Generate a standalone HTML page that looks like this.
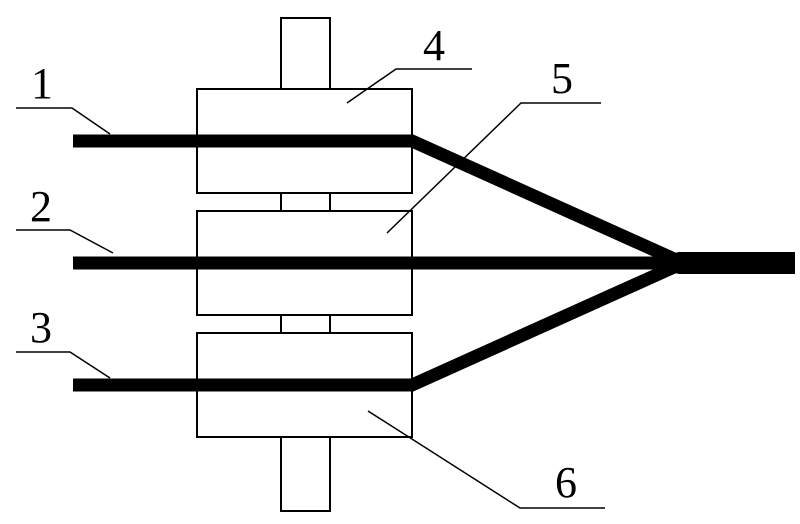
<!DOCTYPE html>
<html><head><style>
html,body{margin:0;padding:0;background:#fff;}
svg{display:block;}
text{font-family:"Liberation Serif",serif;font-size:44px;fill:#000;}
</style></head><body>
<svg width="800" height="524" viewBox="0 0 800 524" xmlns="http://www.w3.org/2000/svg">
<g fill="#fff" stroke="#000" stroke-width="2">
<rect x="281" y="18" width="49" height="493"/>
<rect x="197" y="89" width="215" height="104"/>
<rect x="197" y="211" width="215" height="104"/>
<rect x="197" y="333" width="215" height="104"/>
</g>
<g fill="none" stroke="#000" stroke-width="13" stroke-linejoin="miter">
<polyline points="73,141 412,141 683,263"/>
<polyline points="73,385 412,385 683,263"/>
<line x1="73" y1="263" x2="683" y2="263"/>
</g>
<rect x="678" y="252" width="117" height="22" fill="#000"/>
<polygon points="660,254 683,252 683,274 660,272" fill="#000"/>
<g fill="none" stroke="#000" stroke-width="1.5">
<polyline points="16,108 72,108 110,134"/>
<polyline points="16,230 70,230 113,253"/>
<polyline points="16,352 70,352 110,378"/>
<polyline points="472,69 396,69 347,103"/>
<polyline points="601,103 521,103 387,233"/>
<polyline points="368,411 520,508 605,508"/>
</g>
<text x="31" y="98">1</text>
<text x="30" y="221">2</text>
<text x="30" y="342">3</text>
<text x="423" y="60">4</text>
<text x="551" y="93">5</text>
<text x="555" y="497">6</text>
</svg>
</body></html>
